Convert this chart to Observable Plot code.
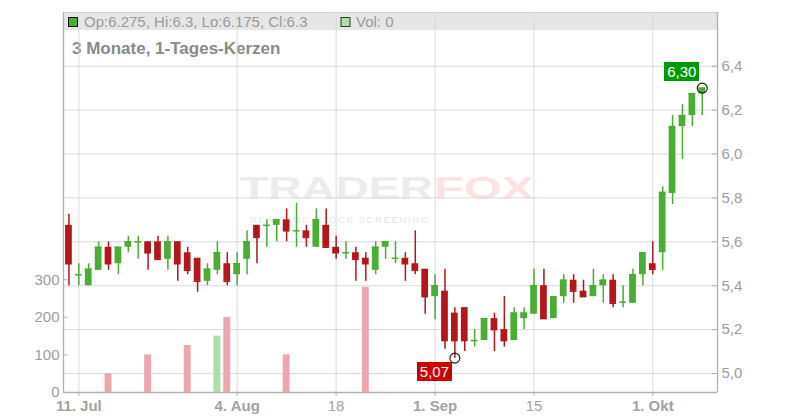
<!DOCTYPE html>
<html><head><meta charset="utf-8">
<script src="https://cdn.jsdelivr.net/npm/d3@7"></script>
<script src="https://cdn.jsdelivr.net/npm/@observablehq/plot@0.6"></script>
<style>
body{margin:0;background:#fff;font-family:"Liberation Sans",Arial,sans-serif;}
#wrap{position:relative;width:800px;height:420px;overflow:hidden;}
#wrap > svg, #wrap > .layer{position:absolute;left:0;top:0;}
.lbl{position:absolute;color:#fff;font:15px "Liberation Sans",Arial,sans-serif;line-height:19px;height:19px;width:35px;text-align:center;}
</style></head><body>
<div id="wrap">
<svg width="800" height="420" style="position:absolute;left:0;top:0">
  <rect x="63" y="12" width="654" height="18" fill="#e6e6e6"/>
  <line x1="63" y1="12.5" x2="717" y2="12.5" stroke="#cfcfcf"/>
  <rect x="68.5" y="17.5" width="9" height="9" fill="#4aad34" stroke="#111"/>
  <text x="84" y="26.7" font-size="15" fill="#9a9a9a" font-family="Liberation Sans, Arial, sans-serif">Op:6.275, Hi:6.3, Lo:6.175, Cl:6.3</text>
  <rect x="341" y="17.5" width="9" height="9" fill="#acdea6" stroke="#333"/>
  <text x="356" y="26.7" font-size="15" fill="#9a9a9a" font-family="Liberation Sans, Arial, sans-serif">Vol: 0</text>
  <text x="72" y="54" font-size="17" font-weight="bold" fill="#8a8a8a" font-family="Liberation Sans, Arial, sans-serif">3 Monate, 1-Tages-Kerzen</text>
  <text x="240" y="199.3" font-size="31.6" font-weight="bold" fill="#ececec" textLength="193" lengthAdjust="spacingAndGlyphs" font-family="Liberation Sans, Arial, sans-serif">TRADER</text>
  <text x="434" y="199.3" font-size="31.6" font-weight="bold" fill="#fde2e2" textLength="100" lengthAdjust="spacingAndGlyphs" font-family="Liberation Sans, Arial, sans-serif">FOX</text>
  <text x="250" y="222.7" font-size="9.5" fill="#e6e6e6" textLength="178" lengthAdjust="spacing" font-family="Liberation Sans, Arial, sans-serif">REALTIME STOCK SCREENING</text>
</svg>
</div>
<script>
const dates = ["2025-07-10","2025-07-11","2025-07-14","2025-07-15","2025-07-16","2025-07-17","2025-07-18",
"2025-07-21","2025-07-22","2025-07-23","2025-07-24","2025-07-25",
"2025-07-28","2025-07-29","2025-07-30","2025-07-31","2025-08-01",
"2025-08-04","2025-08-05","2025-08-06","2025-08-07","2025-08-08",
"2025-08-11","2025-08-12","2025-08-13","2025-08-14","2025-08-15",
"2025-08-18","2025-08-19","2025-08-20","2025-08-21","2025-08-22",
"2025-08-25","2025-08-26","2025-08-27","2025-08-28","2025-08-29",
"2025-09-01","2025-09-02","2025-09-03","2025-09-04","2025-09-05",
"2025-09-08","2025-09-09","2025-09-10","2025-09-11","2025-09-12",
"2025-09-15","2025-09-16","2025-09-17","2025-09-18","2025-09-19",
"2025-09-22","2025-09-23","2025-09-24","2025-09-25","2025-09-26",
"2025-09-29","2025-09-30","2025-10-01","2025-10-02","2025-10-03",
"2025-10-06","2025-10-07","2025-10-08"];
const open = [5.675,5.45,5.40,5.47,5.575,5.50,5.575,
5.60,5.60,5.60,5.52,5.60,
5.55,5.525,5.42,5.47,5.50,
5.45,5.52,5.675,5.675,5.675,
5.70,5.65,5.65,5.575,5.675,
5.575,5.55,5.55,5.525,5.47,
5.575,5.525,5.525,5.50,5.475,
5.35,5.375,5.275,5.30,5.15,
5.15,5.25,5.20,5.15,5.25,
5.27,5.40,5.25,5.35,5.425,
5.375,5.35,5.40,5.425,5.325,
5.32,5.45,5.50,5.55,5.82,
6.125,6.175,6.275];
const high = [5.725,5.50,5.50,5.60,5.60,5.575,5.625,
5.625,5.60,5.625,5.625,5.60,
5.575,5.525,5.50,5.60,5.55,
5.55,5.65,5.675,5.70,5.70,
5.75,5.775,5.675,5.75,5.75,
5.625,5.60,5.575,5.55,5.60,
5.60,5.60,5.55,5.65,5.475,
5.45,5.475,5.30,5.30,5.20,
5.25,5.275,5.35,5.30,5.30,
5.475,5.475,5.35,5.45,5.45,
5.425,5.475,5.45,5.45,5.40,
5.475,5.55,5.60,5.85,6.175,
6.225,6.275,6.30];
const low = [5.40,5.40,5.40,5.47,5.47,5.45,5.55,
5.52,5.47,5.52,5.47,5.42,
5.45,5.37,5.40,5.45,5.40,
5.40,5.45,5.50,5.575,5.60,
5.60,5.575,5.575,5.575,5.575,
5.52,5.52,5.42,5.42,5.45,
5.52,5.50,5.42,5.45,5.27,
5.245,5.11,5.07,5.10,5.12,
5.15,5.10,5.12,5.15,5.20,
5.27,5.25,5.25,5.32,5.32,
5.35,5.35,5.32,5.30,5.30,
5.32,5.40,5.45,5.47,5.77,
5.975,6.125,6.175];
const close = [5.50,5.45,5.475,5.575,5.50,5.575,5.60,
5.60,5.55,5.52,5.60,5.50,
5.47,5.42,5.475,5.55,5.42,
5.50,5.60,5.62,5.675,5.70,
5.65,5.65,5.62,5.70,5.575,
5.55,5.55,5.52,5.50,5.575,
5.60,5.525,5.50,5.47,5.35,
5.40,5.15,5.15,5.15,5.15,
5.25,5.20,5.15,5.275,5.275,
5.40,5.25,5.35,5.425,5.375,
5.35,5.40,5.425,5.32,5.325,
5.45,5.55,5.475,5.825,6.125,
6.175,6.275,6.30];
const volume = [0,0,0,0,50,0,0,
0,100,0,0,0,
125,0,0,150,200,
0,0,0,0,0,
100,0,0,0,0,
0,0,0,280,0,
0,0,0,0,0,
0,0,0,0,0,
0,0,0,0,0,
0,0,0,0,0,
0,0,0,0,0,
0,0,0,0,0,
0,0,0];
const tickDates = ["2025-07-11","2025-08-04","2025-08-18","2025-09-01","2025-09-15","2025-10-01"];
const tickLabels = ["11. Jul","4. Aug","18","1. Sep","15","1. Okt"];
const tickBold = [true,true,false,true,false,true];
const priceTicks = [5.0,5.2,5.4,5.6,5.8,6.0,6.2,6.4];
const volTicks = [0,100,200,300];

const RED = "#b3171c", GREEN = "#4aad34", VRED = "#eea6ae", VGREEN = "#acdea6";
const W = 800, H = 420, mL = 63, mR = 83, mT = 12, mB = 28;
const xDomain = [-0.55, 65.54];
const priceDomain = [4.9134, 6.6447];
const volDomain = [0, 1011];
const font = "Liberation Sans, Arial, sans-serif";
const fmt = p => d3.format(".1f")(p).replace(".", ",");

const rows = dates.map((d, i) => ({i, date: d, o: open[i], h: high[i], l: low[i], c: close[i], v: volume[i], up: close[i] >= open[i]}));
const upRows = rows.filter(d => d.up), downRows = rows.filter(d => !d.up);
const ticks = tickDates.map((d, k) => ({i: dates.indexOf(d), label: tickLabels[k], bold: tickBold[k]}));
const tickIdx = ticks.map(t => t.i);

const hiIdx = d3.maxIndex(high), loIdx = d3.minIndex(low);
const extremes = [{i: hiIdx, p: high[hiIdx]}, {i: loIdx, p: low[loIdx]}];

function candleMarks(data, color) {
  return [
    Plot.ruleX(data, {x: "i", y1: "l", y2: "h", stroke: color, strokeWidth: 1.5}),
    Plot.rect(data, {x1: d => d.i - 0.34, x2: d => d.i + 0.34, y1: "o", y2: "c", fill: color}),
    Plot.ruleY(data, {x1: d => d.i - 0.34, x2: d => d.i + 0.34, y: "c", stroke: color, strokeWidth: 1.5})
  ];
}

const price = Plot.plot({
  width: W, height: H, marginLeft: mL, marginRight: mR, marginTop: mT, marginBottom: mB,
  style: {background: "transparent", fontFamily: font, fontSize: "15px"},
  x: {type: "linear", domain: xDomain, axis: null},
  y: {domain: priceDomain, axis: null},
  marks: [
    Plot.gridY(priceTicks, {stroke: "#dadada", strokeOpacity: 1, strokeWidth: 1}),
    Plot.gridX(tickIdx, {stroke: "#dadada", strokeOpacity: 1, strokeWidth: 1}),
    Plot.ruleX(tickIdx, {y1: priceDomain[0], y2: priceDomain[0] - 0.018, stroke: "#b0b0b0"}),
    Plot.ruleX([xDomain[0], xDomain[1]], {stroke: "#b0b0b0", strokeWidth: 1.3}),
    Plot.ruleY([priceDomain[0]], {stroke: "#b0b0b0", strokeWidth: 1.3}),
    Plot.ruleY(priceTicks, {x1: xDomain[1] - 0.5, x2: xDomain[1], stroke: "#b0b0b0"}),
    Plot.axisY(priceTicks, {anchor: "right", tickSize: 0, tickPadding: 4, tickFormat: fmt, color: "#9c9c9c", fontSize: 15, label: null}),
    Plot.text(ticks.filter(t => t.bold), {x: "i", y: priceDomain[0], dy: 14, text: "label", fontSize: 15, fontWeight: "bold", fill: "#a2a2a2", lineAnchor: "middle"}),
    Plot.text(ticks.filter(t => !t.bold), {x: "i", y: priceDomain[0], dy: 14, text: "label", fontSize: 15, fill: "#a2a2a2", lineAnchor: "middle"}),
    ...candleMarks(downRows, RED),
    ...candleMarks(upRows, GREEN),
    Plot.dot(extremes, {x: "i", y: "p", r: 5, stroke: "#111", strokeWidth: 1.1, fill: "none"})
  ]
});

const vol = Plot.plot({
  width: W, height: H, marginLeft: mL, marginRight: mR, marginTop: mT, marginBottom: mB,
  style: {background: "transparent", fontFamily: font, fontSize: "15px"},
  x: {type: "linear", domain: xDomain, axis: null},
  y: {domain: volDomain, axis: null},
  marks: [
    Plot.rect(rows.filter(d => d.v > 0), {x1: d => d.i - 0.35, x2: d => d.i + 0.35, y1: 0, y2: "v", fill: d => d.up ? VGREEN : VRED}),
    Plot.ruleY(volTicks, {x1: xDomain[0], x2: xDomain[0] + 0.45, stroke: "#b0b0b0"}),
    Plot.axisY(volTicks, {anchor: "left", tickSize: 0, tickPadding: 4, color: "#9c9c9c", fontSize: 15, label: null})
  ]
});

const wrap = document.getElementById("wrap");
price.classList.add("layer");
vol.classList.add("layer");
vol.style.pointerEvents = "none";
wrap.appendChild(price);
wrap.appendChild(vol);

// value labels placed through the plot's own scales
const sx = price.scale("x"), sy = price.scale("y");
function addLabel(i, p, bg, up) {
  const cx = sx.apply(i), cy = sy.apply(p);
  const el = document.createElement("div");
  el.className = "lbl";
  el.style.background = bg;
  el.textContent = fmt(Math.round(p * 100) / 100).length ? d3.format(".2f")(p).replace(".", ",") : "";
  el.style.left = (cx - 2.4 - 35) + "px";
  el.style.top = (up ? cy - 6.3 - 19 : cy + 4.7) + "px";
  wrap.appendChild(el);
}
addLabel(hiIdx, high[hiIdx], "#009a00", true);
addLabel(loIdx, low[loIdx], "#cc0000", false);
</script>
</body></html>
